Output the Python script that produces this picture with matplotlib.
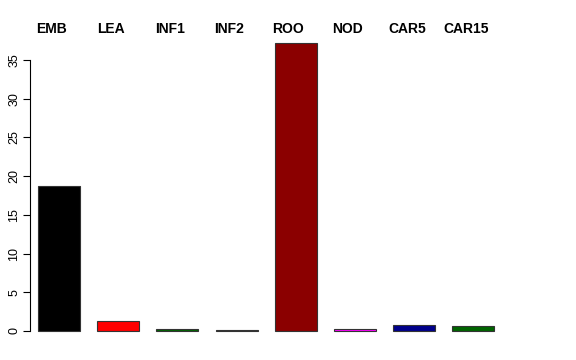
import matplotlib
matplotlib.use('Agg')
import matplotlib.pyplot as plt
import matplotlib.transforms as mtransforms

plt.rcParams['font.family'] = ['Liberation Sans', 'DejaVu Sans']

# Dữ liệu
tissues = ['EMB', 'LEA', 'INF1', 'INF2', 'ROO', 'NOD', 'CAR5', 'CAR15']
values = [18.7, 1.25, 0.25, 0.12, 37.2, 0.3, 0.75, 0.7]
colors = ['black', 'red', 'darkgreen', 'black', 'darkred', 'magenta', 'darkblue', 'darkgreen']

fig = plt.figure(figsize=(5.76, 3.6), dpi=100)
ax = fig.add_axes([30 / 576, 17.5 / 360, 500 / 576, 311 / 360])

x = list(range(len(tissues)))
ax.bar(x, values, width=0.71, color=colors, edgecolor='#333333', linewidth=0.8)

ax.set_xlim((30 - 59) / 59.2, (530 - 59) / 59.2)
ax.set_ylim(-0.04 * 37.2, 37.2 * 1.04)

# Trục y kiểu R
for s in ['top', 'right', 'bottom']:
    ax.spines[s].set_visible(False)
ax.spines['left'].set_bounds(0, 35)
ax.set_yticks([0, 5, 10, 15, 20, 25, 30, 35])
ax.tick_params(axis='y', length=5, labelsize=9, labelrotation=90, pad=2)
for lbl in ax.get_yticklabels():
    lbl.set_va('center')
ax.set_xticks([])

# Nhãn phía trên (hơi lệch trái so với cột)
trans = mtransforms.blended_transform_factory(ax.transData, fig.transFigure)
for xi, name in zip(x, tissues):
    ax.text(xi - 0.125, 1 - 29 / 360, name, transform=trans, ha='center', va='center',
            fontsize=10, fontweight='bold')

fig.savefig('out.png', dpi=100)
